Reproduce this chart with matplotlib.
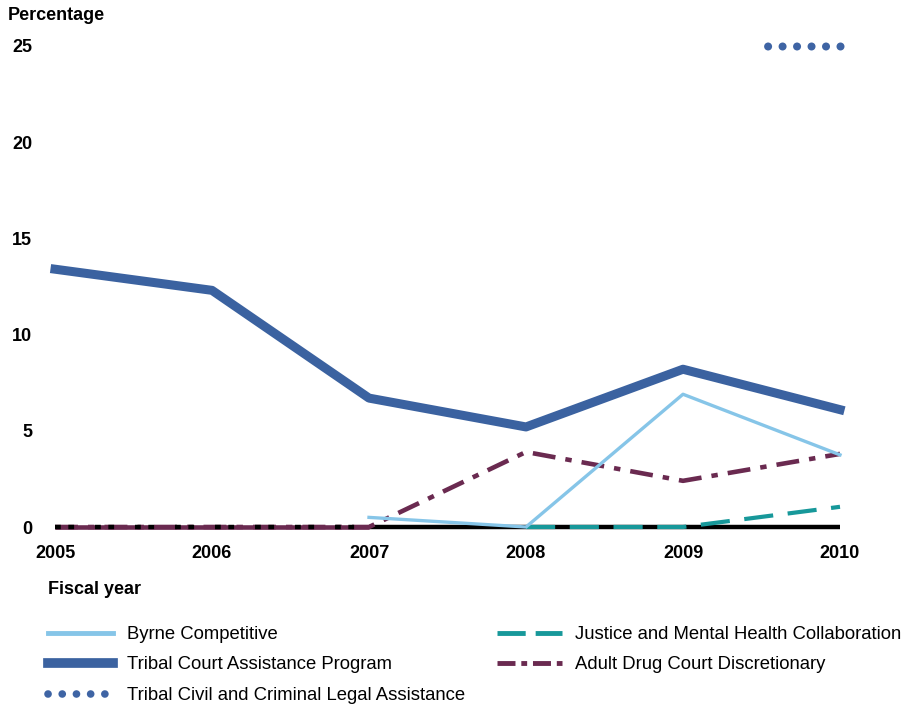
import matplotlib
matplotlib.use("Agg")
import matplotlib.pyplot as plt
from matplotlib.lines import Line2D
from matplotlib.path import Path
import numpy as np

plt.rcParams['font.family'] = ['Liberation Sans', 'DejaVu Sans']

years = [2005, 2006, 2007, 2008, 2009, 2010]
tribal_court = [13.4, 12.3, 6.7, 5.2, 8.2, 6.1]
byrne_years = [2007, 2008, 2009, 2010]
byrne = [0.5, 0.0, 6.9, 3.75]
justice_years = [2008, 2009, 2010]
justice = [0.0, 0.0, 1.05]
adult_drug = [0.0, 0.0, 0.0, 3.9, 2.4, 3.8]
tribal_civil_years = [2010]
tribal_civil = [25]
baseline_years = [2007, 2008, 2009, 2010]
baseline = [0, 0, 0, 0]
dotted_base_years = [2005, 2006, 2007]
dotted_base = [0, 0, 0]
yticks = [0, 5, 10, 15, 20, 25]

C_BYRNE = '#86c5e8'
C_TRIBAL = '#3b62a0'
C_JUSTICE = '#17989a'
C_ADULT = '#6a2a50'
C_CIVIL = '#3e64a4'

fig = plt.figure(figsize=(9.2, 7.09), dpi=100)
ax = fig.add_axes([55/920, 1-527/709, (840-55)/920, (527-46)/709])
ax.set_xlim(2005, 2010)
ax.set_ylim(0, 25)

ax.plot(baseline_years, baseline, color='black', lw=3.2, solid_capstyle='butt', clip_on=False, zorder=2)
ax.plot(years, adult_drug, color=C_ADULT, lw=3.3, dashes=(5, 2.2, 1.4, 2.2), clip_on=False, zorder=3)
ax.plot(years[:3], adult_drug[:3], color=C_ADULT, lw=3.3, solid_capstyle='butt', clip_on=False, zorder=3)
ax.plot(dotted_base_years, dotted_base, color='black', lw=3.2, dashes=(1.3, 1.7, 1.3, 4.7), clip_on=False, zorder=4)
ax.plot(justice_years, justice, color=C_JUSTICE, lw=3.0, dashes=(7, 3.5), clip_on=False, zorder=4)
ax.plot(byrne_years, byrne, color=C_BYRNE, lw=2.4, clip_on=False, zorder=5)
ax.plot(years, tribal_court, color=C_TRIBAL, lw=6.5, clip_on=False, zorder=6)

# row-of-dots marker anchored at right end
centers = np.arange(-5, 1) * 14.5
circ = Path.make_compound_path(*[Path.circle((c, 0), 4) for c in centers])
ax.plot(tribal_civil_years, tribal_civil, linestyle='none', marker=circ, markersize=110,
        color=C_CIVIL, markeredgewidth=0, clip_on=False, zorder=6)

for s in ax.spines.values():
    s.set_visible(False)
ax.set_xticks(years)
ax.set_xticklabels([str(y) for y in years], fontsize=13, fontweight='bold')
ax.set_yticks(yticks)
ax.set_yticklabels([str(y) for y in yticks], fontsize=13, fontweight='bold')
ax.tick_params(length=0)
ax.tick_params(axis='x', pad=13)
ax.tick_params(axis='y', pad=16.5)

fig.text(8/920, 1-15/709, 'Percentage', fontsize=13, fontweight='bold', va='center', ha='left')
fig.text(48/920, 1-590/709, 'Fiscal year', fontsize=13, fontweight='bold', va='center', ha='left')

handles = [
    Line2D([], [], color=C_BYRNE, lw=3.5),
    Line2D([], [], color=C_TRIBAL, lw=7),
    Line2D([], [], color=C_CIVIL, lw=5.5, linestyle=(0, (0.01, 1.85)), dash_capstyle='round'),
    Line2D([], [], color=C_JUSTICE, lw=3.5, dashes=(5.8, 2.05)),
    Line2D([], [], color=C_ADULT, lw=3.5, dashes=(3.7, 1.2, 1.2, 1.2)),
]
labels = ['Byrne Competitive', 'Tribal Court Assistance Program',
          'Tribal Civil and Criminal Legal Assistance',
          'Justice and Mental Health Collaboration', 'Adult Drug Court Discretionary']
fig.legend(handles, labels, ncol=2, loc='upper left', bbox_to_anchor=(48/920, 1-626/709),
           frameon=False, fontsize=13.3, handlelength=3.5, handletextpad=0.75,
           columnspacing=1.75, labelspacing=0.73, borderaxespad=0, borderpad=0)

fig.savefig('out.png', dpi=100)
